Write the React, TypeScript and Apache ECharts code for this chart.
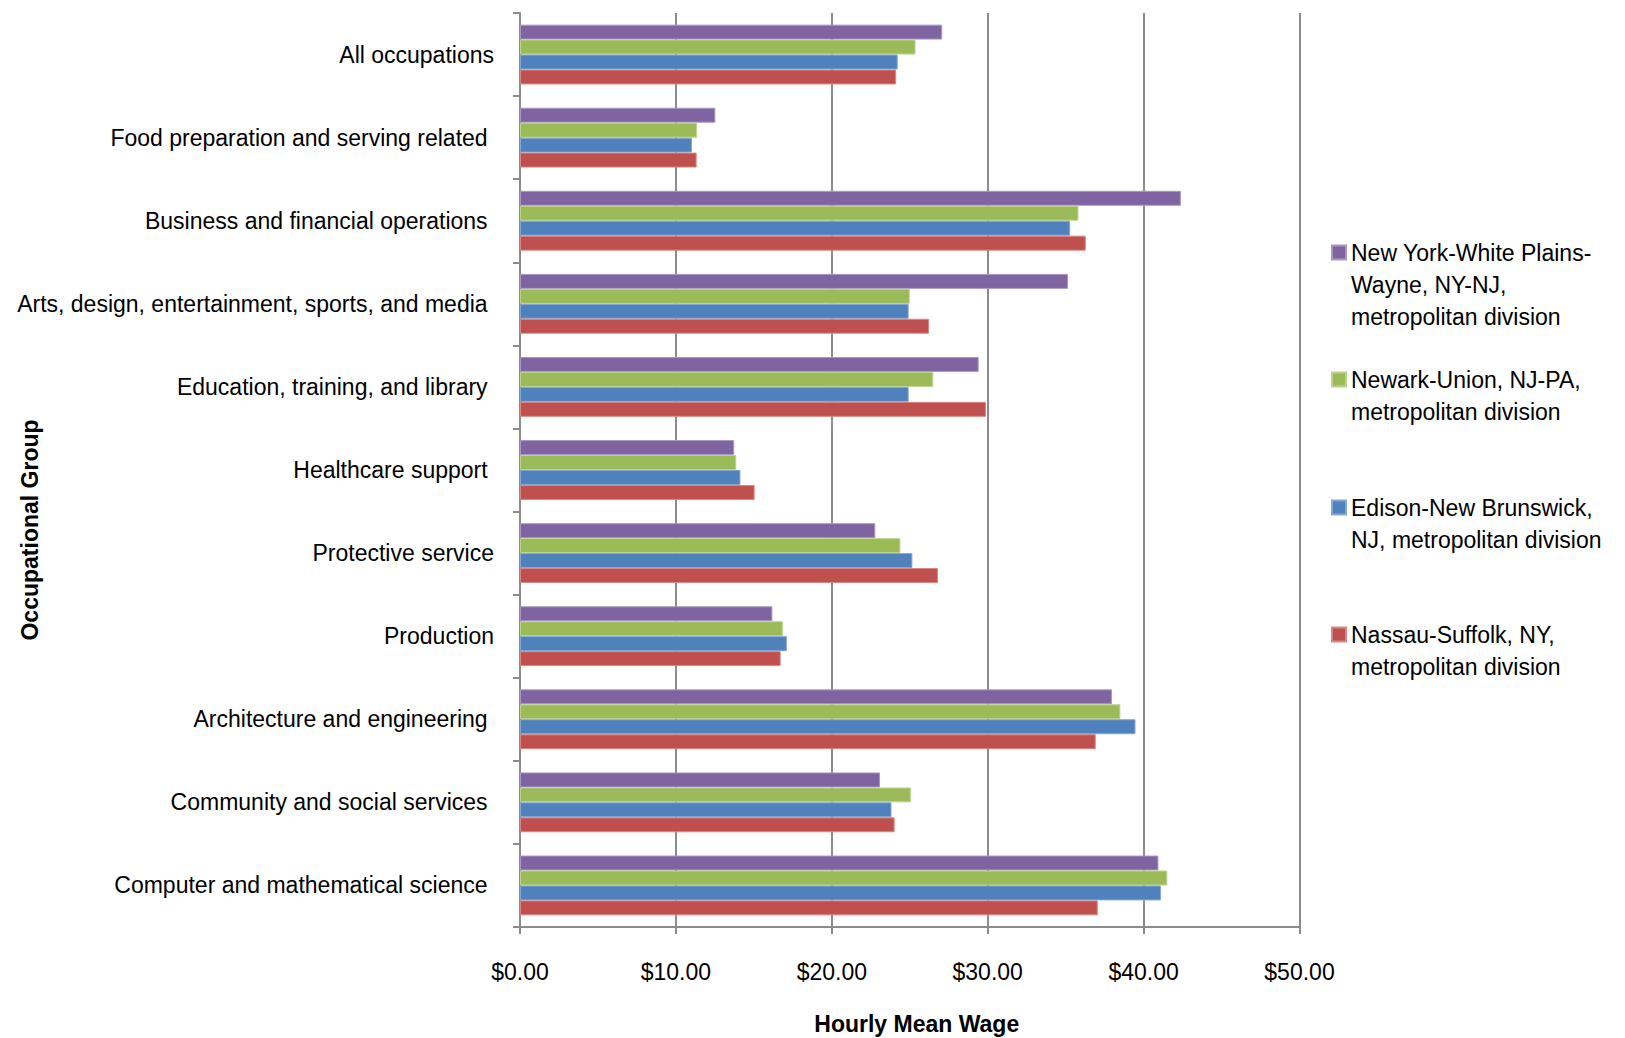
import React, { useEffect, useRef } from 'react';
import * as echarts from 'echarts';

const categories = [
  'All occupations',
  'Food preparation and serving related ',
  'Business and financial operations ',
  'Arts, design, entertainment, sports, and media ',
  'Education, training, and library ',
  'Healthcare support ',
  'Protective service',
  'Production',
  'Architecture and engineering ',
  'Community and social services ',
  'Computer and mathematical science ',
];

const seriesNames = [
  'New York-White Plains-Wayne, NY-NJ, metropolitan division',
  'Newark-Union, NJ-PA, metropolitan division',
  'Edison-New Brunswick, NJ, metropolitan division',
  'Nassau-Suffolk, NY, metropolitan division',
];

const legendLabels = [
  'New York-White Plains-\nWayne, NY-NJ,\nmetropolitan division',
  'Newark-Union, NJ-PA,\nmetropolitan division',
  'Edison-New Brunswick,\nNJ, metropolitan division',
  'Nassau-Suffolk, NY,\nmetropolitan division',
];

const newYorkWhitePlains = [27.08, 12.53, 42.39, 35.15, 29.42, 13.74, 22.79, 16.19, 37.97, 23.09, 40.95];
const newarkUnion = [25.37, 11.36, 35.82, 25.0, 26.51, 13.87, 24.4, 16.86, 38.51, 25.07, 41.52];
const edisonNewBrunswick = [24.23, 11.03, 35.29, 24.93, 24.93, 14.14, 25.17, 17.12, 39.48, 23.83, 41.12];
const nassauSuffolk = [24.13, 11.33, 36.29, 26.24, 29.89, 15.05, 26.81, 16.72, 36.93, 24.03, 37.06];

const seriesValues = [newYorkWhitePlains, newarkUnion, edisonNewBrunswick, nassauSuffolk];

const colors = ['#8064A2', '#9BBB59', '#4F81BD', '#C0504D'];
const borderColors = ['#A897C4', '#BCD38E', '#86A7D3', '#D58886'];

const FONT = "'Liberation Sans', Arial, Helvetica, sans-serif";
const FS = 23;
const LH = 32;
const GRID_COLOR = '#8c8c8c';

export default function App() {
  const ref = useRef<HTMLDivElement>(null);

  useEffect(() => {
    if (!ref.current) return;
    const chart = echarts.init(ref.current, undefined, { renderer: 'svg' });
    const legendIconTops = [241, 368, 496, 623];

    const option: any = {
      animation: false,
      backgroundColor: '#ffffff',
      textStyle: { fontFamily: FONT },
      grid: {
        left: 520,
        right: 325.5,
        top: 13,
        bottom: 111,
        containLabel: false,
        outerBoundsMode: 'none',
      },
      legend: seriesNames.map((name, i) => {
        const n = legendLabels[i].split('\n').length;
        const total = 2 * n - 1;
        const blockTop = 7 - (LH / 2) * total + (LH - FS) / 2;
        return {
          orient: 'vertical',
          left: 1331,
          top: legendIconTops[i] + blockTop,
          padding: 0,
          itemWidth: 14,
          itemHeight: 14,
          icon: 'rect',
          selectedMode: false,
          data: [name],
          formatter: () => '\n'.repeat(n - 1) + legendLabels[i],
          textStyle: {
            fontFamily: FONT,
            fontSize: FS,
            lineHeight: LH,
            color: '#000',
          },
        };
      }),
      xAxis: {
        type: 'value',
        min: 0,
        max: 50,
        interval: 10,
        axisLine: { show: true, lineStyle: { color: GRID_COLOR, width: 2 } },
        axisTick: { show: true, length: 7, lineStyle: { color: GRID_COLOR, width: 2 } },
        axisLabel: {
          formatter: (v: number) => '$' + v.toFixed(2),
          fontFamily: FONT,
          fontSize: FS,
          color: '#000',
          margin: 33,
        },
        splitLine: { show: true, lineStyle: { color: GRID_COLOR, width: 2 } },
        name: 'Hourly Mean Wage',
        nameLocation: 'middle',
        nameGap: 85,
        nameMoveOverlap: false,
        nameTextStyle: { fontFamily: FONT, fontSize: FS, fontWeight: 'bold', color: '#000', padding: [0, 0, 0, 14] },
      },
      yAxis: {
        type: 'category',
        data: categories,
        inverse: true,
        axisLine: { show: true, lineStyle: { color: GRID_COLOR, width: 2 } },
        axisTick: { show: true, length: 7, lineStyle: { color: GRID_COLOR, width: 2 } },
        axisLabel: {
          fontFamily: FONT,
          fontSize: FS,
          color: '#000',
          margin: 26,
        },
        name: 'Occupational Group',
        nameLocation: 'middle',
        nameGap: 479,
        nameMoveOverlap: false,
        nameTextStyle: {
          fontFamily: FONT,
          fontSize: FS,
          fontWeight: 'bold',
          color: '#000',
          padding: [0, 120, 0, 0],
        },
      },
      series: seriesNames.map((name, i) => ({
        name,
        type: 'bar',
        data: seriesValues[i],
        barGap: '0%',
        barCategoryGap: '28%',
        itemStyle: { color: colors[i], borderColor: borderColors[i], borderWidth: 1 },
      })),
    };

    chart.setOption(option);
    return () => chart.dispose();
  }, []);

  return (
    <div
      ref={ref}
      style={{ position: 'fixed', left: 0, top: 0, width: 1625, height: 1038, background: '#fff' }}
    />
  );
}
